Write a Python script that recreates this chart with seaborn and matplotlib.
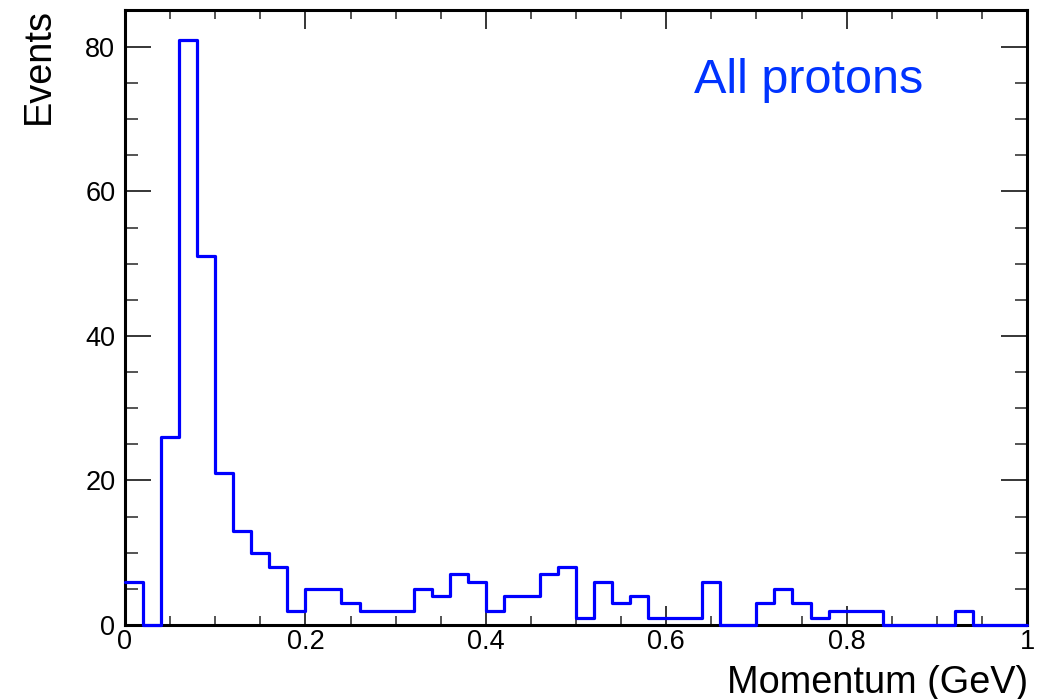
import numpy as np
import pandas as pd
import matplotlib
matplotlib.use("Agg")
import matplotlib.pyplot as plt
import seaborn as sns
from matplotlib.ticker import MultipleLocator

# Histogram data: 50 bins of width 0.02 from 0 to 1
bin_edges = [round(i * 0.02, 2) for i in range(51)]
counts = [6, 0, 26, 81, 51, 21, 13, 10, 8, 2,
          5, 5, 3, 2, 2, 2, 5, 4, 7, 6,
          2, 4, 4, 7, 8, 1, 6, 3, 4, 1,
          1, 1, 6, 0, 0, 3, 5, 3, 1, 2,
          2, 2, 0, 0, 0, 0, 2, 0, 0, 0]
bin_centers = [(a + b) / 2 for a, b in zip(bin_edges[:-1], bin_edges[1:])]

x_label = "Momentum (GeV)"
y_label = "Events"
annotation = "All protons"

df = pd.DataFrame({"momentum": bin_centers, "count": counts})

sns.set_theme(style="white")
plt.rcParams['font.family'] = ['Liberation Sans', 'DejaVu Sans']

W, H = 1046, 699
fig = plt.figure(figsize=(W / 100, H / 100), dpi=100)
ax = fig.add_axes([125 / W, 1 - 625 / H, (1027 - 125) / W, (625 - 10) / H])

sns.histplot(data=df, x="momentum", weights="count", bins=bin_edges, element="step",
             fill=False, color="#0000ff", linewidth=2.3, ax=ax)
for ln in ax.lines:
    ln.set_clip_on(False)
    ln.set_zorder(3)

ax.set_xlim(0, 1)
ax.set_ylim(0, 85.1)
ax.set_xlabel("")
ax.set_ylabel("")

ax.xaxis.set_major_locator(MultipleLocator(0.2))
ax.xaxis.set_minor_locator(MultipleLocator(0.05))
ax.yaxis.set_major_locator(MultipleLocator(20))
ax.yaxis.set_minor_locator(MultipleLocator(5))
ax.xaxis.set_major_formatter(plt.FuncFormatter(lambda v, p: f"{v:g}"))

for s in ax.spines.values():
    s.set_color("black")
    s.set_linewidth(2.2)

ax.tick_params(axis="x", which="major", direction="in", length=13.5, width=1.1,
               top=True, bottom=True, labelsize=19.5, pad=3, colors="black")
ax.tick_params(axis="x", which="minor", direction="in", length=6.5, width=1.1,
               top=True, bottom=True)
ax.tick_params(axis="y", which="major", direction="in", length=19, width=1.1,
               left=True, right=True, labelsize=19.5, pad=7, colors="black")
ax.tick_params(axis="y", which="minor", direction="in", length=9, width=1.1,
               left=True, right=True)

fig.text(1028 / W, 6 / H, x_label, ha="right", va="baseline", fontsize=27.3, color="black")
fig.text(49 / W, 1 - 8 / H, y_label, ha="right", va="baseline", rotation=90,
         rotation_mode="anchor", fontsize=27.3, color="black")

ax.text((694 - 125) / 902, (625 - 93) / 615, annotation, transform=ax.transAxes,
        ha="left", va="baseline", fontsize=35, color="#0033ff")

fig.savefig("out.png", dpi=100)
